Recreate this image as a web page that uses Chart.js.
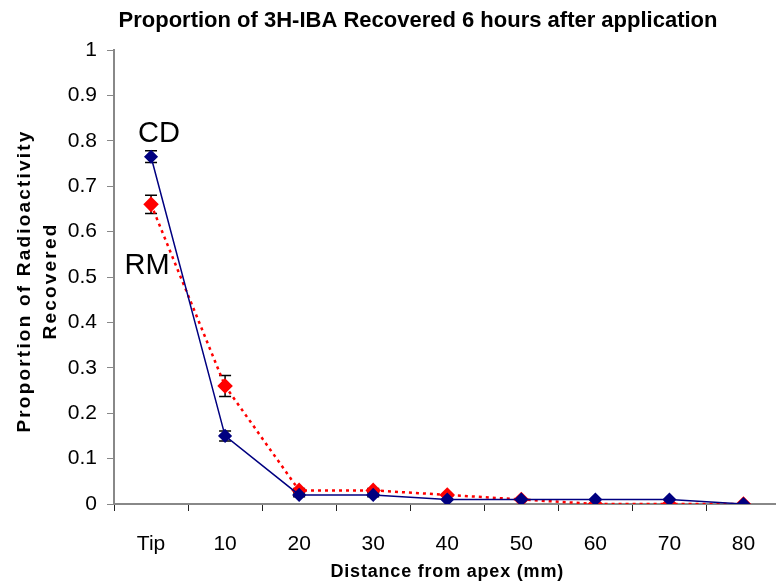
<!DOCTYPE html>
<html>
<head>
<meta charset="utf-8">
<script src="https://cdn.jsdelivr.net/npm/chart.js@4.4.1/dist/chart.umd.min.js"></script>
<style>
  html, body { margin: 0; padding: 0; background: #fff; overflow: hidden; }
  #outer { width: 776px; height: 587px; overflow: hidden; position: relative; }
  #chart { position: absolute; left: 0; top: 0; }
</style>
</head>
<body>
<div id="outer"><canvas id="chart" width="789" height="587"></canvas></div>
<script>
// distances from apex
const categories = ['Tip', '10', '20', '30', '40', '50', '60', '70', '80'];

// proportion of radioactivity recovered
const cdValues = [0.765, 0.15, 0.02, 0.02, 0.01, 0.01, 0.01, 0.01, 0];
const rmValues = [0.66, 0.26, 0.03, 0.03, 0.02, 0.01, 0, 0, 0];

// standard errors
const cdErrors = [0.013, 0.011, 0.004, 0.004, 0, 0, 0, 0, 0];
const rmErrors = [0.02, 0.023, 0.004, 0.004, 0, 0, 0, 0, 0];

const yTicks = [0, 0.1, 0.2, 0.3, 0.4, 0.5, 0.6, 0.7, 0.8, 0.9, 1];

const FONT = "'Liberation Sans', Arial, sans-serif";

// error bars drawn before the lines so the markers sit on top
const errorBars = {
    id: 'errorBars',
    beforeDatasetsDraw(chart) {
        const ctx = chart.ctx;
        const x = chart.scales.x;
        const y = chart.scales.y;
        const sets = [[cdValues, cdErrors], [rmValues, rmErrors]];
        ctx.save();
        ctx.strokeStyle = '#000';
        ctx.lineWidth = 1.5;
        sets.forEach(([vals, errs]) => {
            vals.forEach((v, i) => {
                if (!errs[i]) return;
                const px = x.getPixelForValue(i);
                const top = y.getPixelForValue(v + errs[i]);
                const bot = y.getPixelForValue(v - errs[i]);
                ctx.beginPath();
                ctx.moveTo(px, top); ctx.lineTo(px, bot);
                ctx.moveTo(px - 6, top); ctx.lineTo(px + 6, top);
                ctx.moveTo(px - 6, bot); ctx.lineTo(px + 6, bot);
                ctx.stroke();
            });
        });
        ctx.restore();
    }
};

// title, axis titles (letter-spaced) and the CD / RM series labels
const labels = {
    id: 'labels',
    afterDraw(chart) {
        const ctx = chart.ctx;
        const x = chart.scales.x;
        const y = chart.scales.y;
        const area = chart.chartArea;
        ctx.save();
        ctx.fillStyle = '#000';
        ctx.textAlign = 'center';
        ctx.textBaseline = 'middle';

        ctx.font = 'bold 22px ' + FONT;
        ctx.fillText('Proportion of 3H-IBA Recovered 6 hours after application', 418, 21);

        ctx.font = 'bold 18px ' + FONT;
        ctx.letterSpacing = '0.8px';
        ctx.fillText('Distance from apex (mm)', (area.left + area.right) / 2, 572);

        ctx.font = 'bold 19px ' + FONT;
        ctx.letterSpacing = '2.2px';
        const midY = (area.top + area.bottom) / 2 + 4;
        ctx.translate(25, midY);
        ctx.rotate(-Math.PI / 2);
        ctx.fillText('Proportion of Radioactivity', 0, 0);
        ctx.fillText('Recovered', 0, 26);
        ctx.setTransform(1, 0, 0, 1, 0, 0);
        ctx.letterSpacing = '0px';

        ctx.font = '29px ' + FONT;
        ctx.fillText('CD', x.getPixelForValue(0) + 8, y.getPixelForValue(0.815));
        ctx.fillText('RM', x.getPixelForValue(0) - 4, y.getPixelForValue(0.525));
        ctx.restore();
    }
};

new Chart(document.getElementById('chart'), {
    type: 'line',
    data: {
        labels: categories,
        datasets: [
            {
                label: 'CD',
                data: cdValues,
                borderColor: '#000080',
                backgroundColor: '#000080',
                borderWidth: 1.5,
                pointStyle: 'rectRot',
                pointRadius: 6,
                pointHoverRadius: 6,
                tension: 0
            },
            {
                label: 'RM',
                data: rmValues,
                borderColor: '#ff0000',
                backgroundColor: '#ff0000',
                borderWidth: 2.5,
                borderDash: [3, 4],
                pointStyle: 'rectRot',
                pointRadius: 6,
                pointHoverRadius: 6,
                tension: 0
            }
        ]
    },
    options: {
        responsive: false,
        animation: false,
        layout: { padding: { top: 50, right: 0, left: 0, bottom: 0 } },
        plugins: {
            legend: { display: false },
            tooltip: { enabled: false }
        },
        scales: {
            x: {
                offset: true,
                grid: { offset: true, drawOnChartArea: false, drawTicks: true, tickLength: 7, color: '#222' },
                border: { color: '#888', width: 2 },
                ticks: { color: '#000', font: { family: FONT, size: 21 }, padding: 21 },
                title: { display: false },
                afterFit(s) { s.height = 83; }
            },
            y: {
                min: 0,
                max: 1,
                afterBuildTicks(s) { s.ticks = yTicks.map(v => ({ value: v })); },
                grid: { drawOnChartArea: false, drawTicks: true, tickLength: 7, color: '#888' },
                border: { color: '#888', width: 2 },
                ticks: {
                    color: '#000',
                    font: { family: FONT, size: 21 },
                    padding: 10,
                    callback: v => String(v)
                },
                title: { display: false },
                afterFit(s) { s.width = 114; }
            }
        }
    },
    plugins: [errorBars, labels]
});
</script>
</body>
</html>
